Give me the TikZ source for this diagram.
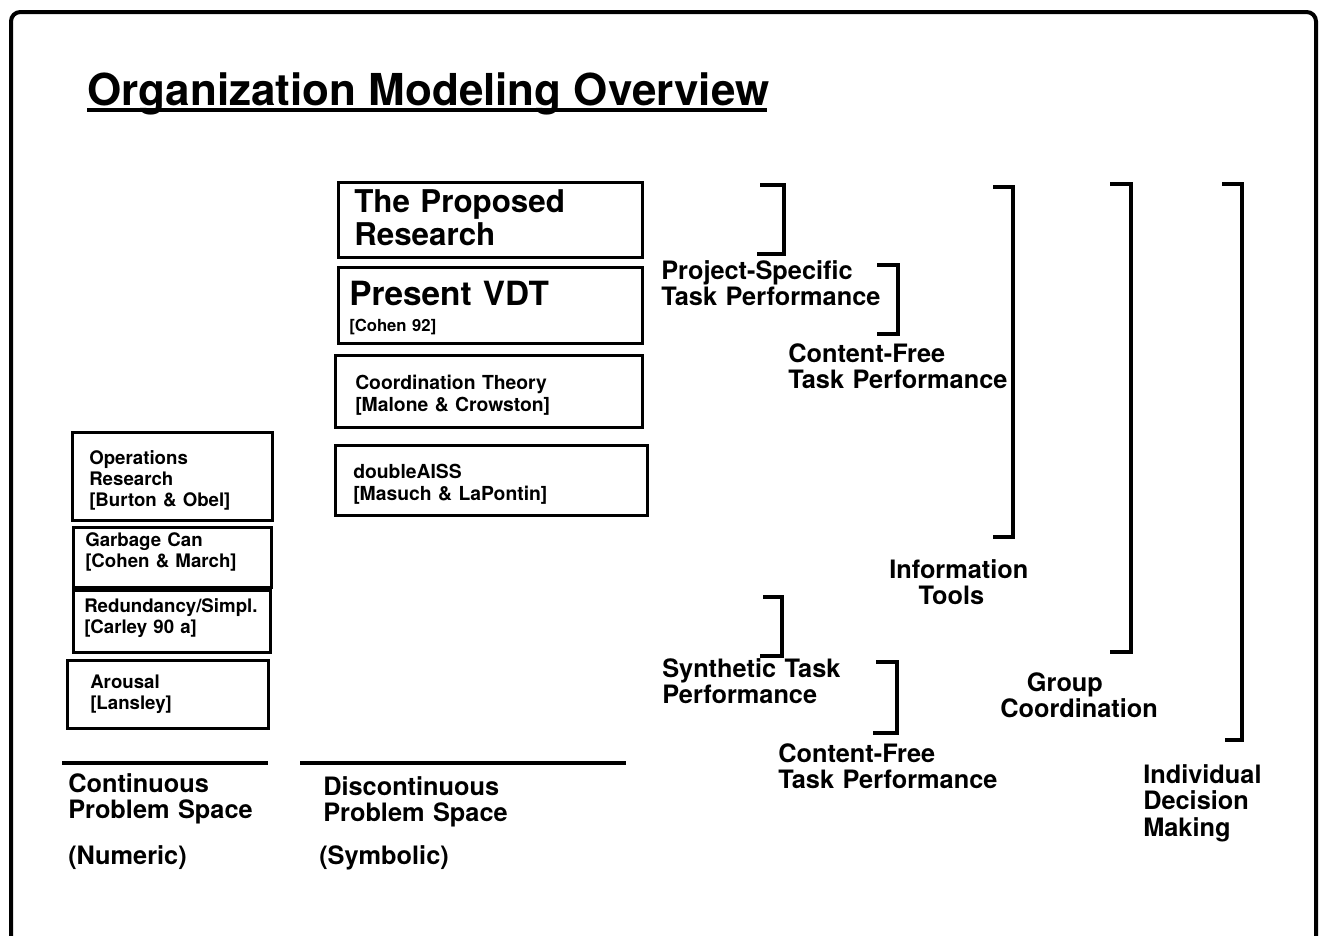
\documentclass[tikz,border=0pt]{standalone}
\usepackage{fontspec}
\setmainfont{TeX Gyre Heros}
\usetikzlibrary{fit}
\tikzset{
  framepath/.style={line width=3pt,rounded corners=7pt},
  box/.style={draw,line width=2.25pt,inner sep=0pt},
  brk/.style={line width=3pt,line join=miter},
  rulebar/.style={line width=2.8pt},
  txt/.style={anchor=base west,inner sep=0pt,text width=300pt,align=left},
  ctxt/.style={anchor=base,inner sep=0pt,text width=200pt,align=center},
  lbl/.style={font=\bfseries\fontsize{19}{20}\selectfont},
  boxtxt/.style={font=\bfseries\fontsize{14.5}{16.5}\selectfont},
  lefttxt/.style={font=\bfseries\fontsize{14}{15.8}\selectfont},
}
\begin{document}
\begin{tikzpicture}[x=0.75pt,y=-0.75pt]
\clip (0,0) rectangle (1319,935);
\fill[white] (0,0) rectangle (1319,935);

% slide frame (bottom edge runs off the page)
\draw[framepath] (11,960) -- (11,12) -- (1316,12) -- (1316,960);

% title
\node[anchor=base west,inner sep=0pt,font=\bfseries\fontsize{33}{36}\selectfont] (title) at (87,105) {Organization Modeling Overview};
\draw[line width=2.4pt] (87,110) -- (767,110);

% discontinuous column boxes
\node[box,fit={(338,182)(642,257)}] (prop) {};
\node[txt,font=\bfseries\fontsize{23.5}{24.75}\selectfont] (propt) at (354,212) {The Proposed\\Research};

\node[box,fit={(338,267)(642,343)}] (vdt) {};
\node[txt,font=\bfseries\fontsize{25}{27}\selectfont] (vdtt) at (349,305) {Present VDT};
\node[txt,font=\bfseries\fontsize{12.5}{14}\selectfont] (vdtr) at (349,331) {[Cohen 92]};

\node[box,fit={(335,355)(642,427)}] (coord) {};
\node[txt,boxtxt] (coordt) at (355,389) {Coordination Theory\\{}[Malone \& Crowston]};

\node[box,fit={(335,445)(647,515)}] (daiss) {};
\node[txt,boxtxt] (daisst) at (353,478) {doubleAISS\\{}[Masuch \& LaPontin]};

% continuous column boxes
\node[box,fit={(72,432)(272,520)}] (opres) {};
\node[txt,lefttxt] (oprest) at (89,464) {Operations\\Research\\{}[Burton \& Obel]};

\node[box,fit={(73,527)(271,587)}] (garb) {};
\node[txt,lefttxt] (garbt) at (85,546) {Garbage Can\\{}[Cohen \& March]};

\node[box,fit={(73,590)(270,652)}] (redun) {};
\node[txt,lefttxt] (redunt) at (84,612) {Redundancy/Simpl.\\{}[Carley 90 a]};

\node[box,fit={(67,660)(268,728)}] (arous) {};
\node[txt,lefttxt] (aroust) at (90,688) {Arousal\\{}[Lansley]};

% problem space rules and captions
\draw[rulebar] (62,763) -- (268,763);
\draw[rulebar] (300,763) -- (626,763);
\node[txt,lbl] (cont) at (68,792) {Continuous\\Problem Space};
\node[txt,lbl] (numer) at (68,864) {(Numeric)};
\node[txt,lbl] (disc) at (323,795) {Discontinuous\\Problem Space};
\node[txt,lbl] (symb) at (319,864) {(Symbolic)};

% bracket labels
\node[txt,lbl] (projsp) at (661,279) {Project-Specific\\Task Performance};
\node[txt,lbl] (cfree1) at (788,362) {Content-Free\\Task Performance};
\node[txt,lbl] (info) at (889,578) {Information\\\hspace*{22pt}Tools};
\node[txt,lbl] (synth) at (662,677) {Synthetic Task\\Performance};
\node[txt,lbl] (cfree2) at (778,762) {Content-Free\\Task Performance};
\node[txt,lbl] (group) at (1000,691) {\hspace*{20pt}Group\\Coordination};
\node[txt,lbl] (indiv) at (1143,783) {Individual\\Decision\\Making};

% brackets
\draw[brk] (760,185) -- (784,185) -- (784,254) -- (757,254);
\draw[brk] (877,265) -- (898,265) -- (898,334) -- (877,334);
\draw[brk] (993,187) -- (1013,187) -- (1013,537) -- (993,537);
\draw[brk] (763,597) -- (782,597) -- (782,656) -- (760,656);
\draw[brk] (876,662) -- (897,662) -- (897,733) -- (873,733);
\draw[brk] (1110,184) -- (1131,184) -- (1131,652) -- (1110,652);
\draw[brk] (1222,184) -- (1242,184) -- (1242,740) -- (1225,740);
\end{tikzpicture}
\end{document}
